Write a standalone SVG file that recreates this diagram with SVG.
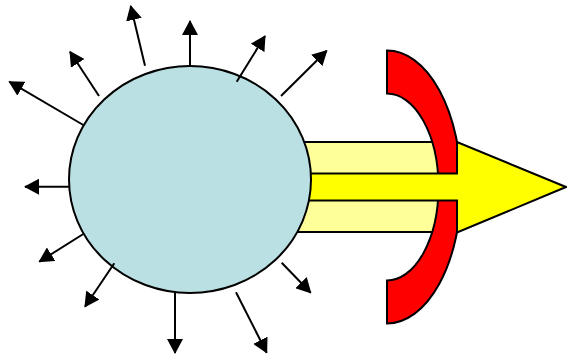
<svg xmlns="http://www.w3.org/2000/svg" width="567" height="354" viewBox="0 0 567 354">
  <style>
    .outline { stroke: #000; stroke-width: 2; stroke-linejoin: miter; }
    .conn { stroke: #000; stroke-width: 2; fill: none; marker-end: url(#head); }
  </style>
  <defs>
    <marker id="head" viewBox="0 0 15 16" refX="14" refY="8" markerWidth="15" markerHeight="16" markerUnits="userSpaceOnUse" orient="auto">
      <path d="M0,0 L15,8 L0,16 Z" fill="#000"/>
    </marker>
  </defs>
  <rect width="567" height="354" fill="#fff"/>
  <g id="beam">
    <rect class="outline" x="290" y="142" width="155" height="90" fill="#FFFF99"/>
  </g>
  <g id="shield">
    <path class="outline" fill="#FF0000" d="M387,50.5 A74.2,136.5 0 0 1 387,323.5 L387,280.5 A51.5,93.5 0 0 0 387,93.5 Z"/>
  </g>
  <g id="arrow">
    <path class="outline" fill="#FFFF00" d="M290,173.5 L457,173.5 L457,142 L566,187 L457,232.5 L457,200.5 L290,200.5 Z"/>
  </g>
  <g id="sphere">
    <ellipse class="outline" cx="190" cy="179.5" rx="121" ry="113.5" fill="#BBE0E3"/>
  </g>
  <g id="connectors">
    <line class="conn" x1="190" y1="65" x2="190" y2="21"/>
    <line class="conn" x1="145" y1="65.7" x2="130.7" y2="6"/>
    <line class="conn" x1="236.7" y1="81.7" x2="265" y2="36"/>
    <line class="conn" x1="281" y1="96" x2="326.7" y2="50.7"/>
    <line class="conn" x1="99" y1="96" x2="70" y2="51.7"/>
    <line class="conn" x1="83.3" y1="125" x2="9.3" y2="81.7"/>
    <line class="conn" x1="69.3" y1="186.7" x2="25" y2="186.7"/>
    <line class="conn" x1="83.3" y1="234" x2="39.3" y2="261.7"/>
    <line class="conn" x1="114.3" y1="263.3" x2="85" y2="306.7"/>
    <line class="conn" x1="175" y1="292.3" x2="175" y2="353"/>
    <line class="conn" x1="236" y1="292.3" x2="266.7" y2="352.7"/>
    <line class="conn" x1="281.7" y1="262.7" x2="310.7" y2="292.7"/>
  </g>
</svg>
